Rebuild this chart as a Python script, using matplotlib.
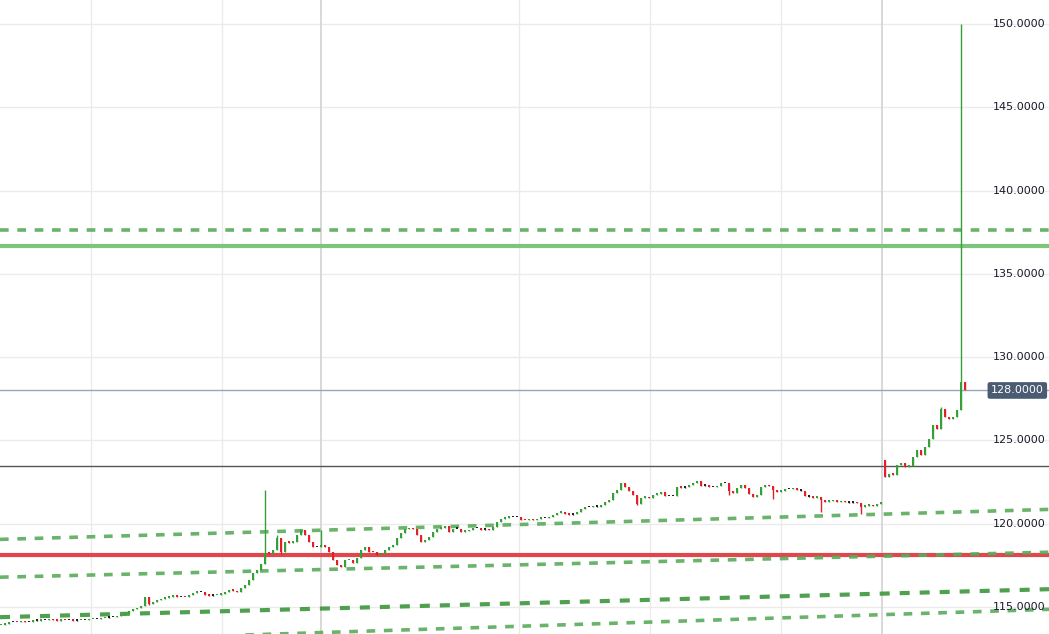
import numpy as np
import matplotlib
matplotlib.use("Agg")
import matplotlib.pyplot as plt
from matplotlib.patches import Rectangle

# closing prices, one per candle (open = previous close unless given below)
closes = [
    113.94, 114.0, 114.1, 114.12, 114.08, 114.15, 114.1, 114.12, 114.2, 114.18,
    114.22, 114.2, 114.26, 114.22, 114.18, 114.24, 114.2, 114.22, 114.18, 114.2,
    114.24, 114.22, 114.26, 114.3, 114.28, 114.32, 114.36, 114.38, 114.4, 114.45,
    114.55, 114.66, 114.78, 114.88, 114.95, 115.05, 115.6, 115.18, 115.3, 115.42,
    115.5, 115.56, 115.62, 115.74, 115.6, 115.62, 115.58, 115.7, 115.86, 115.92,
    115.9, 115.72, 115.68, 115.7, 115.74, 115.78, 115.9, 116.04, 115.98, 115.9,
    116.12, 116.3, 116.6, 117.06, 117.24, 117.6, 118.26, 118.2, 118.4, 119.16,
    118.3, 118.9, 118.86, 118.9, 119.3, 119.64, 119.3, 118.9, 118.62, 118.6,
    118.72, 118.6, 118.3, 117.84, 117.54, 117.42, 117.8, 117.84, 117.66, 117.96,
    118.44, 118.6, 118.32, 118.28, 118.14, 118.2, 118.44, 118.62, 118.74, 119.16,
    119.46, 119.66, 119.72, 119.68, 119.34, 118.92, 119.04, 119.2, 119.52, 119.7,
    119.76, 119.86, 119.52, 119.7, 119.7, 119.52, 119.56, 119.64, 119.76, 119.74,
    119.64, 119.66, 119.62, 119.82, 120.12, 120.3, 120.36, 120.4, 120.42, 120.4,
    120.24, 120.2, 120.26, 120.22, 120.3, 120.36, 120.34, 120.38, 120.5, 120.66,
    120.72, 120.58, 120.54, 120.56, 120.72, 120.9, 121.02, 121.0, 121.04, 121.02,
    121.14, 121.3, 121.44, 121.86, 122.04, 122.46, 122.2, 121.96, 121.74, 121.2,
    121.56, 121.6, 121.54, 121.74, 121.8, 121.92, 121.68, 121.66, 121.68, 122.22,
    122.16, 122.18, 122.3, 122.46, 122.58, 122.28, 122.3, 122.22, 122.2, 122.24,
    122.46, 122.44, 121.98, 121.86, 122.16, 122.34, 122.16, 121.8, 121.62, 121.74,
    122.2, 122.34, 122.26, 122.0, 121.92, 121.96, 122.1, 122.08, 122.12, 122.0,
    121.98, 121.64, 121.62, 121.56, 121.6, 121.44, 121.32, 121.36, 121.44, 121.3,
    121.34, 121.28, 121.26, 121.28, 121.24, 121.02, 121.08, 121.14, 121.06, 121.2,
    121.26, 122.82, 123.0, 122.94, 123.5, 123.66, 123.42, 123.48, 124.0, 124.44,
    124.14, 124.6, 125.1, 125.94, 125.7, 126.9, 126.4, 126.3, 126.4, 126.84,
    128.5, 128.0,
]
first_open = 113.9
gap_opens = {221: 123.84}
wick_highs = {66: 122.04, 69: 119.3, 80: 119.6, 221: 123.84, 240: 150.0, 235: 127.0}
wick_lows = {37: 115.1, 70: 118.2, 159: 121.1, 182: 121.7, 193: 121.5,
             205: 120.7, 215: 120.6, 224: 122.9}

# sloped support lines: (price at left edge, price at right edge)
trend_lines = [(119.06, 120.86), (116.79, 118.29), (114.39, 116.07), (112.85, 114.86)]
level_dashed = 137.65
level_solid = 136.65
level_red = 118.1
level_dark = 123.44
last_price = 128.0
y_ticks = [115, 120, 125, 130, 135, 140, 145, 150]
v_grid = [22.5, 55.25, 129.5, 162.25, 195]
v_grid_dark = [80, 220.3]

fig = plt.figure(figsize=(10.49, 6.34), dpi=100)
ax = fig.add_axes([0, 0, 1, 1])
xmin, xmax = -0.25, 262.0
ax.set_xlim(xmin, xmax)
ax.set_ylim(113.38, 151.44)
ax.axis("off")

for t in y_ticks:
    ax.axhline(t, color="#ebebeb", lw=1, zorder=0)
for v in v_grid:
    ax.axvline(v, color="#ebebeb", lw=1, zorder=0)
for v in v_grid_dark:
    ax.axvline(v, color="#d2d2d2", lw=1.2, zorder=0)

# candles
green, red, black = "#35a035", "#e3202a", "#222222"
prev = first_open
for i, c in enumerate(closes):
    o = gap_opens.get(i, prev)
    hi = wick_highs.get(i, max(o, c))
    lo = wick_lows.get(i, min(o, c))
    if abs(c - o) < 0.03:
        col = black
    elif c > o:
        col = green
    else:
        col = red
    ax.vlines(i, lo, hi, color=col, lw=1, zorder=3)
    bot = min(o, c)
    h = max(abs(c - o), 0.09)
    ax.add_patch(Rectangle((i - 0.28, bot), 0.56, h, color=col, lw=0, zorder=3))
    prev = c

# levels
ax.axhline(level_dashed, color="#5aab5a", lw=2.6, ls=(0, (2.4, 2.4)), alpha=0.9, zorder=2)
ax.axhline(level_solid, color="#7cc57c", lw=3.0, zorder=2)
ax.axhline(level_red, color="#e0464b", lw=3.0, zorder=2)
ax.axhline(level_dark, color="#555555", lw=1.0, zorder=2)
ax.axhline(last_price, color="#9aa6b8", lw=1.0, zorder=2)

for k, (p0, p1) in enumerate(trend_lines):
    col = "#3c963c" if k == 2 else "#5aab5a"
    ax.plot([xmin, xmax], [p0, p1], color=col, lw=3.0 if k == 2 else 2.6,
            ls=(0, (2.4, 2.4)), alpha=0.9, zorder=2)

# price labels
tr = ax.get_yaxis_transform()
for t in y_ticks:
    ax.text(0.997, t, f"{t:.4f}", transform=tr, ha="right", va="center",
            fontsize=8, color="#1a1a2a", zorder=5)
ax.text(0.995, last_price, f"{last_price:.4f}", transform=tr, ha="right", va="center",
        fontsize=8, color="white", zorder=6,
        bbox=dict(boxstyle="round,pad=0.3,rounding_size=0.2", fc="#4b5b72", ec="none"))

fig.savefig("out.png", dpi=100)
